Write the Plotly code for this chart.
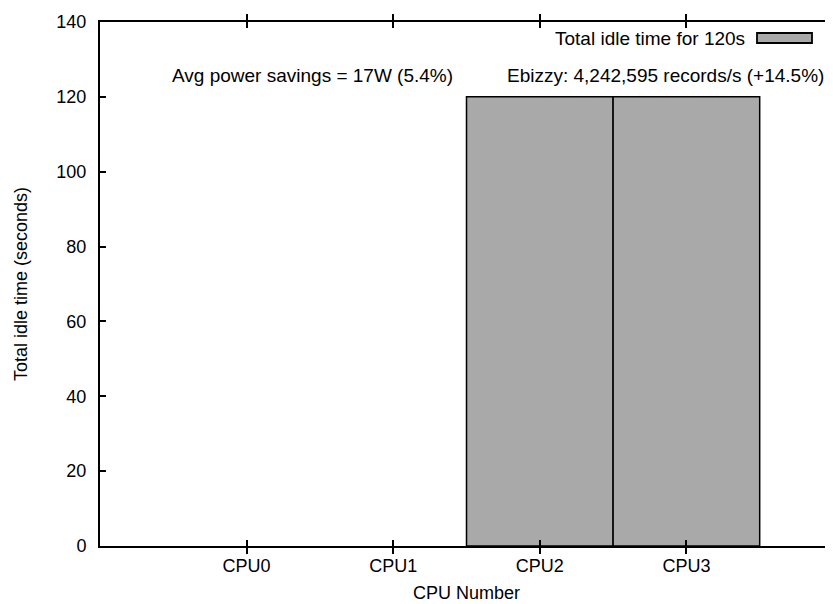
import plotly.graph_objects as go

categories = ["CPU0", "CPU1", "CPU2", "CPU3"]
idle_time = [0, 0, 120, 120]
y_ticks = [0, 20, 40, 60, 80, 100, 120, 140]
series_name = "Total idle time for 120s"
note_power = "Avg power savings = 17W (5.4%)"
note_ebizzy = "Ebizzy: 4,242,595 records/s (+14.5%)"

FONT = "Liberation Sans, Arial, Helvetica, sans-serif"
BAR = "#a9a9a9"

# the page body adds an 8px offset; the figure is sized to compensate
fig = go.Figure()
fig.add_trace(go.Bar(
    x=categories, y=idle_time, name=series_name, width=1.0,
    marker=dict(color=BAR,
                line=dict(color="black", width=[0 if v == 0 else 1.5 for v in idle_time])),
    showlegend=False,
))
# invisible trace to drive the mirrored right-side ticks (no line)
fig.add_trace(go.Scatter(x=categories, y=idle_time, yaxis="y2", mode="none",
                         showlegend=False, hoverinfo="skip"))

fig.update_layout(
    width=825, height=596,
    margin=dict(l=92, r=0, t=14, b=58),
    paper_bgcolor="white", plot_bgcolor="white",
    font=dict(family=FONT, size=18, color="black"),
    xaxis=dict(
        type="category", range=[-1, 4], automargin=False,
        showline=True, linecolor="black", linewidth=2, mirror="allticks",
        ticks="inside", ticklen=6, tickwidth=1.5, tickcolor="black",
        showgrid=False, zeroline=False,
        tickfont=dict(size=18), ticklabelstandoff=2,
        title=dict(text="CPU Number", font=dict(size=18), standoff=12),
    ),
    yaxis=dict(
        range=[0, 140], tickvals=y_ticks, automargin=False,
        showline=True, linecolor="black", linewidth=2, mirror=False,
        ticks="inside", ticklen=6, tickwidth=1.5, tickcolor="black",
        showgrid=False, zeroline=False,
        tickfont=dict(size=18), ticklabelstandoff=8,
        title=dict(text="Total idle time (seconds)", font=dict(size=18), standoff=24),
    ),
    yaxis2=dict(
        range=[0, 140], tickvals=y_ticks, overlaying="y", side="right",
        showline=False, showticklabels=False, showgrid=False, zeroline=False,
        ticks="inside", ticklen=6, tickwidth=1.5, tickcolor="black", automargin=False,
    ),
    showlegend=False,
)

fig.add_annotation(text=note_power, xref="paper", yref="y",
                   x=(170 - 100) / 733, y=125.8, xanchor="left", yanchor="middle",
                   showarrow=False, font=dict(size=19))
fig.add_annotation(text=note_ebizzy, xref="paper", yref="y",
                   x=(505 - 100) / 733, y=125.8, xanchor="left", yanchor="middle",
                   showarrow=False, font=dict(size=19))
# key (gnuplot style: text then sample box)
fig.add_annotation(text=series_name, xref="paper", yref="y",
                   x=(747 - 100) / 733, y=135.7, xanchor="right", yanchor="middle",
                   showarrow=False, font=dict(size=19))
fig.add_shape(type="rect", xref="paper", yref="paper",
              x0=(757 - 100) / 733, x1=(812 - 100) / 733,
              y0=(546 - 43) / 524, y1=(546 - 33) / 524,
              fillcolor=BAR, line=dict(color="black", width=1.8))

fig.write_html("out.html")
